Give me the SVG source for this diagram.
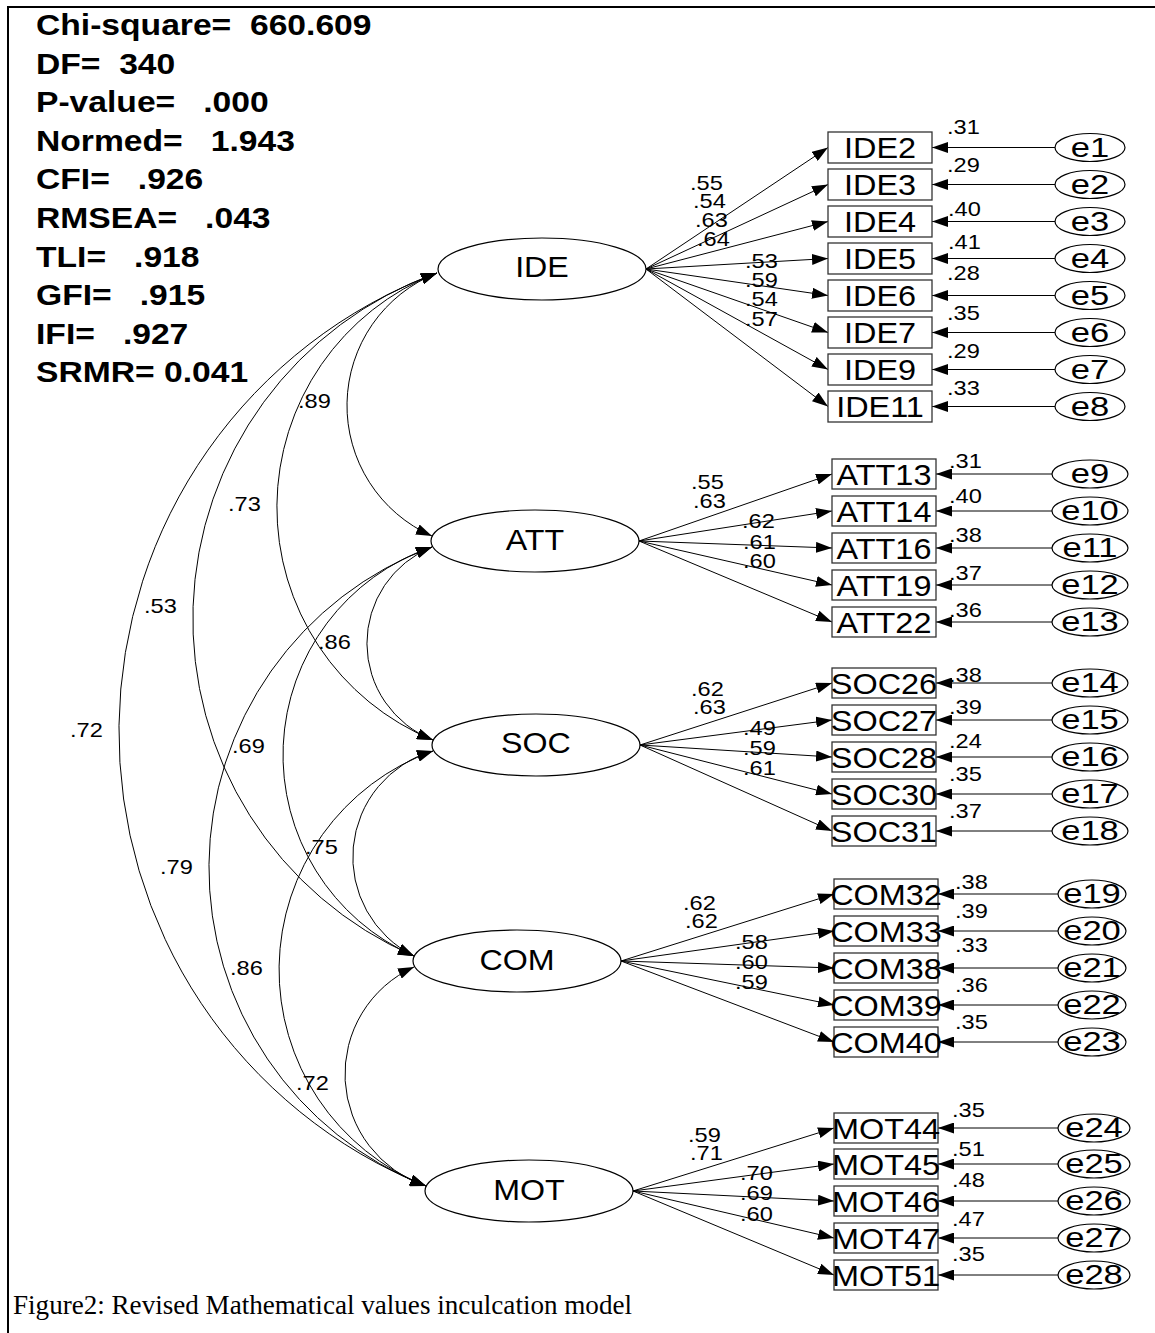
<svg xmlns="http://www.w3.org/2000/svg" width="1155" height="1333" viewBox="0 0 1155 1333">
<defs>
<marker id="ah" viewBox="0 0 16 11" refX="16" refY="5.5" markerWidth="16" markerHeight="11" markerUnits="userSpaceOnUse" orient="auto-start-reverse"><path d="M0,0 L16,5.5 L0,11 z" fill="#000"/></marker>
<style>
text{fill:#000;font-family:"Liberation Sans",Arial,sans-serif;transform-box:fill-box}
.st{font-size:29px;font-weight:bold;white-space:pre;transform-origin:left center;transform:scaleX(1.16)}
.lat{font-size:29px;text-anchor:middle;transform-origin:center;transform:scaleX(1.11)}
.ind{font-size:30px;text-anchor:middle;transform-origin:center;transform:scaleX(1.08)}
.err{font-size:27px;text-anchor:middle;transform-origin:center;transform:scaleX(1.28)}
.lb{font-size:20px;transform-origin:left center;transform:scaleX(1.18)}
.cap{font-family:"Liberation Serif","Times New Roman",serif;font-size:26.5px}
ellipse{fill:#fff;stroke:#000;stroke-width:1.2}
rect.box{fill:#fff;stroke:#333;stroke-width:1.3}
.conn line,.conn path{fill:none;stroke:#000;stroke-width:1;marker-end:url(#ah)}
.conn path{marker-start:url(#ah)}
</style>
</defs>
<rect x="0" y="0" width="1155" height="1333" fill="#fff"/>
<rect x="8" y="7" width="1200" height="1400" fill="none" stroke="#000" stroke-width="2"/>

<g id="fit-stats">
<text class="st" x="36" y="35">Chi-square=  660.609</text>
<text class="st" x="36" y="73.6">DF=  340</text>
<text class="st" x="36" y="112.2">P-value=   .000</text>
<text class="st" x="36" y="150.8">Normed=   1.943</text>
<text class="st" x="36" y="189.4">CFI=   .926</text>
<text class="st" x="36" y="228">RMSEA=   .043</text>
<text class="st" x="36" y="266.6">TLI=   .918</text>
<text class="st" x="36" y="305.2">GFI=   .915</text>
<text class="st" x="36" y="343.8">IFI=   .927</text>
<text class="st" x="36" y="382.4">SRMR= 0.041</text>
</g>

<g class="conn" id="connectors">
<!-- covariances -->
<path d="M437,273 A142.6,142.6 0 0 0 432,536"/>
<path d="M437,273 A251.5,251.5 0 0 0 433,740"/>
<path d="M437,273 A367.3,367.3 0 0 0 414,956"/>
<path d="M437,273 A489.7,489.7 0 0 0 426,1186"/>
<path d="M432,547 A103.8,103.8 0 0 0 433,740"/>
<path d="M432,547 A219.7,219.7 0 0 0 414,956"/>
<path d="M432,547 A342,342 0 0 0 426,1186"/>
<path d="M433,751 A110.4,110.4 0 0 0 414,956"/>
<path d="M433,751 A232.5,232.5 0 0 0 426,1186"/>
<path d="M414,967 A117.7,117.7 0 0 0 426,1186"/>
<!-- IDE loadings -->
<line x1="646" y1="269" x2="828" y2="147.5"/>
<line x1="646" y1="269" x2="828" y2="184.5"/>
<line x1="646" y1="269" x2="828" y2="221.5"/>
<line x1="646" y1="269" x2="828" y2="258.5"/>
<line x1="646" y1="269" x2="828" y2="295.5"/>
<line x1="646" y1="269" x2="828" y2="332.5"/>
<line x1="646" y1="269" x2="828" y2="369.5"/>
<line x1="646" y1="269" x2="828" y2="406.5"/>
<!-- ATT loadings -->
<line x1="639" y1="541" x2="832" y2="474"/>
<line x1="639" y1="541" x2="832" y2="511"/>
<line x1="639" y1="541" x2="832" y2="548"/>
<line x1="639" y1="541" x2="832" y2="585"/>
<line x1="639" y1="541" x2="832" y2="622"/>
<!-- SOC loadings -->
<line x1="640" y1="745" x2="832" y2="683"/>
<line x1="640" y1="745" x2="832" y2="720"/>
<line x1="640" y1="745" x2="832" y2="757"/>
<line x1="640" y1="745" x2="832" y2="794"/>
<line x1="640" y1="745" x2="832" y2="831"/>
<!-- COM loadings -->
<line x1="621" y1="961" x2="834" y2="894"/>
<line x1="621" y1="961" x2="834" y2="931"/>
<line x1="621" y1="961" x2="834" y2="968"/>
<line x1="621" y1="961" x2="834" y2="1005"/>
<line x1="621" y1="961" x2="834" y2="1042"/>
<!-- MOT loadings -->
<line x1="633" y1="1191" x2="834" y2="1128"/>
<line x1="633" y1="1191" x2="834" y2="1164"/>
<line x1="633" y1="1191" x2="834" y2="1201"/>
<line x1="633" y1="1191" x2="834" y2="1238"/>
<line x1="633" y1="1191" x2="834" y2="1275"/>
<!-- error arrows -->
<line x1="1055" y1="147.5" x2="932" y2="147.5"/>
<line x1="1055" y1="184.5" x2="932" y2="184.5"/>
<line x1="1055" y1="221.5" x2="932" y2="221.5"/>
<line x1="1055" y1="258.5" x2="932" y2="258.5"/>
<line x1="1055" y1="295.5" x2="932" y2="295.5"/>
<line x1="1055" y1="332.5" x2="932" y2="332.5"/>
<line x1="1055" y1="369.5" x2="932" y2="369.5"/>
<line x1="1055" y1="406.5" x2="932" y2="406.5"/>
<line x1="1052" y1="474" x2="936" y2="474"/>
<line x1="1052" y1="511" x2="936" y2="511"/>
<line x1="1052" y1="548" x2="936" y2="548"/>
<line x1="1052" y1="585" x2="936" y2="585"/>
<line x1="1052" y1="622" x2="936" y2="622"/>
<line x1="1052" y1="683" x2="936" y2="683"/>
<line x1="1052" y1="720" x2="936" y2="720"/>
<line x1="1052" y1="757" x2="936" y2="757"/>
<line x1="1052" y1="794" x2="936" y2="794"/>
<line x1="1052" y1="831" x2="936" y2="831"/>
<line x1="1058" y1="894" x2="938" y2="894"/>
<line x1="1058" y1="931" x2="938" y2="931"/>
<line x1="1058" y1="968" x2="938" y2="968"/>
<line x1="1058" y1="1005" x2="938" y2="1005"/>
<line x1="1058" y1="1042" x2="938" y2="1042"/>
<line x1="1058" y1="1128" x2="938" y2="1128"/>
<line x1="1058" y1="1164" x2="938" y2="1164"/>
<line x1="1058" y1="1201" x2="938" y2="1201"/>
<line x1="1058" y1="1238" x2="938" y2="1238"/>
<line x1="1058" y1="1275" x2="938" y2="1275"/>
</g>

<g id="connector-labels">
<text class="lb" x="298" y="408">.89</text>
<text class="lb" x="228" y="511">.73</text>
<text class="lb" x="144" y="613">.53</text>
<text class="lb" x="70" y="737">.72</text>
<text class="lb" x="318" y="649">.86</text>
<text class="lb" x="232" y="753">.69</text>
<text class="lb" x="160" y="874">.79</text>
<text class="lb" x="305" y="854">.75</text>
<text class="lb" x="230" y="975">.86</text>
<text class="lb" x="296" y="1090">.72</text>
<text class="lb" x="690" y="190">.55</text>
<text class="lb" x="693" y="208">.54</text>
<text class="lb" x="695" y="227">.63</text>
<text class="lb" x="697" y="246">.64</text>
<text class="lb" x="745" y="268">.53</text>
<text class="lb" x="745" y="287">.59</text>
<text class="lb" x="745" y="306">.54</text>
<text class="lb" x="745" y="326">.57</text>
<text class="lb" x="691" y="489">.55</text>
<text class="lb" x="693" y="508">.63</text>
<text class="lb" x="742" y="528">.62</text>
<text class="lb" x="743" y="549">.61</text>
<text class="lb" x="743" y="568">.60</text>
<text class="lb" x="691" y="696">.62</text>
<text class="lb" x="693" y="714">.63</text>
<text class="lb" x="743" y="735">.49</text>
<text class="lb" x="743" y="755">.59</text>
<text class="lb" x="743" y="775">.61</text>
<text class="lb" x="683" y="910">.62</text>
<text class="lb" x="685" y="928">.62</text>
<text class="lb" x="735" y="949">.58</text>
<text class="lb" x="735" y="969">.60</text>
<text class="lb" x="735" y="989">.59</text>
<text class="lb" x="688" y="1142">.59</text>
<text class="lb" x="690" y="1160">.71</text>
<text class="lb" x="740" y="1180">.70</text>
<text class="lb" x="740" y="1200">.69</text>
<text class="lb" x="740" y="1221">.60</text>
</g>

<g id="IDE"><ellipse cx="542" cy="269" rx="104" ry="31"/><text class="lat" x="542" y="277">IDE</text></g>
<g id="ATT"><ellipse cx="535" cy="541" rx="104" ry="31"/><text class="lat" x="535" y="550">ATT</text></g>
<g id="SOC"><ellipse cx="536" cy="745" rx="104" ry="31"/><text class="lat" x="536" y="753">SOC</text></g>
<g id="COM"><ellipse cx="517" cy="961" rx="104" ry="31"/><text class="lat" x="517" y="970">COM</text></g>
<g id="MOT"><ellipse cx="529" cy="1191" rx="104" ry="31"/><text class="lat" x="529" y="1200">MOT</text></g>

<g id="IDE2"><rect class="box" x="828" y="132" width="104" height="31"/><text class="ind" x="880" y="158.5">IDE2</text></g>
<g id="IDE3"><rect class="box" x="828" y="169" width="104" height="31"/><text class="ind" x="880" y="195.5">IDE3</text></g>
<g id="IDE4"><rect class="box" x="828" y="206" width="104" height="31"/><text class="ind" x="880" y="232.5">IDE4</text></g>
<g id="IDE5"><rect class="box" x="828" y="243" width="104" height="31"/><text class="ind" x="880" y="269.5">IDE5</text></g>
<g id="IDE6"><rect class="box" x="828" y="280" width="104" height="31"/><text class="ind" x="880" y="306.5">IDE6</text></g>
<g id="IDE7"><rect class="box" x="828" y="317" width="104" height="31"/><text class="ind" x="880" y="343.5">IDE7</text></g>
<g id="IDE9"><rect class="box" x="828" y="354" width="104" height="31"/><text class="ind" x="880" y="380.5">IDE9</text></g>
<g id="IDE11"><rect class="box" x="828" y="391" width="104" height="31"/><text class="ind" x="880" y="417.5">IDE11</text></g>

<g id="ATT13"><rect class="box" x="832" y="459" width="104" height="30"/><text class="ind" x="884" y="485">ATT13</text></g>
<g id="ATT14"><rect class="box" x="832" y="496" width="104" height="30"/><text class="ind" x="884" y="522">ATT14</text></g>
<g id="ATT16"><rect class="box" x="832" y="533" width="104" height="30"/><text class="ind" x="884" y="559">ATT16</text></g>
<g id="ATT19"><rect class="box" x="832" y="570" width="104" height="30"/><text class="ind" x="884" y="596">ATT19</text></g>
<g id="ATT22"><rect class="box" x="832" y="607" width="104" height="30"/><text class="ind" x="884" y="633">ATT22</text></g>

<g id="SOC26"><rect class="box" x="832" y="668" width="104" height="30"/><text class="ind" x="884" y="694">SOC26</text></g>
<g id="SOC27"><rect class="box" x="832" y="705" width="104" height="30"/><text class="ind" x="884" y="731">SOC27</text></g>
<g id="SOC28"><rect class="box" x="832" y="742" width="104" height="30"/><text class="ind" x="884" y="768">SOC28</text></g>
<g id="SOC30"><rect class="box" x="832" y="779" width="104" height="30"/><text class="ind" x="884" y="805">SOC30</text></g>
<g id="SOC31"><rect class="box" x="832" y="816" width="104" height="30"/><text class="ind" x="884" y="842">SOC31</text></g>

<g id="COM32"><rect class="box" x="834" y="879" width="104" height="30"/><text class="ind" x="886" y="905">COM32</text></g>
<g id="COM33"><rect class="box" x="834" y="916" width="104" height="30"/><text class="ind" x="886" y="942">COM33</text></g>
<g id="COM38"><rect class="box" x="834" y="953" width="104" height="30"/><text class="ind" x="886" y="979">COM38</text></g>
<g id="COM39"><rect class="box" x="834" y="990" width="104" height="30"/><text class="ind" x="886" y="1016">COM39</text></g>
<g id="COM40"><rect class="box" x="834" y="1027" width="104" height="30"/><text class="ind" x="886" y="1053">COM40</text></g>

<g id="MOT44"><rect class="box" x="834" y="1113" width="104" height="30"/><text class="ind" x="886" y="1139">MOT44</text></g>
<g id="MOT45"><rect class="box" x="834" y="1149" width="104" height="30"/><text class="ind" x="886" y="1175">MOT45</text></g>
<g id="MOT46"><rect class="box" x="834" y="1186" width="104" height="30"/><text class="ind" x="886" y="1212">MOT46</text></g>
<g id="MOT47"><rect class="box" x="834" y="1223" width="104" height="30"/><text class="ind" x="886" y="1249">MOT47</text></g>
<g id="MOT51"><rect class="box" x="834" y="1260" width="104" height="30"/><text class="ind" x="886" y="1286">MOT51</text></g>

<g id="error-labels">
<text class="lb" x="947" y="134">.31</text>
<text class="lb" x="947" y="172">.29</text>
<text class="lb" x="948" y="216">.40</text>
<text class="lb" x="948" y="249">.41</text>
<text class="lb" x="947" y="280">.28</text>
<text class="lb" x="947" y="320">.35</text>
<text class="lb" x="947" y="358">.29</text>
<text class="lb" x="947" y="395">.33</text>
<text class="lb" x="949" y="468">.31</text>
<text class="lb" x="949" y="503">.40</text>
<text class="lb" x="949" y="542">.38</text>
<text class="lb" x="949" y="580">.37</text>
<text class="lb" x="949" y="617">.36</text>
<text class="lb" x="949" y="682">.38</text>
<text class="lb" x="949" y="714">.39</text>
<text class="lb" x="949" y="748">.24</text>
<text class="lb" x="949" y="781">.35</text>
<text class="lb" x="949" y="818">.37</text>
<text class="lb" x="955" y="889">.38</text>
<text class="lb" x="955" y="918">.39</text>
<text class="lb" x="955" y="952">.33</text>
<text class="lb" x="955" y="992">.36</text>
<text class="lb" x="955" y="1029">.35</text>
<text class="lb" x="952" y="1117">.35</text>
<text class="lb" x="952" y="1156">.51</text>
<text class="lb" x="952" y="1187">.48</text>
<text class="lb" x="952" y="1226">.47</text>
<text class="lb" x="952" y="1261">.35</text>
</g>

<g id="e1"><ellipse cx="1090" cy="147.5" rx="35" ry="14"/><text class="err" x="1090" y="157">e1</text></g>
<g id="e2"><ellipse cx="1090" cy="184.5" rx="35" ry="14"/><text class="err" x="1090" y="194">e2</text></g>
<g id="e3"><ellipse cx="1090" cy="221.5" rx="35" ry="14"/><text class="err" x="1090" y="231">e3</text></g>
<g id="e4"><ellipse cx="1090" cy="258.5" rx="35" ry="14"/><text class="err" x="1090" y="268">e4</text></g>
<g id="e5"><ellipse cx="1090" cy="295.5" rx="35" ry="14"/><text class="err" x="1090" y="305">e5</text></g>
<g id="e6"><ellipse cx="1090" cy="332.5" rx="35" ry="14"/><text class="err" x="1090" y="342">e6</text></g>
<g id="e7"><ellipse cx="1090" cy="369.5" rx="35" ry="14"/><text class="err" x="1090" y="379">e7</text></g>
<g id="e8"><ellipse cx="1090" cy="406.5" rx="35" ry="14"/><text class="err" x="1090" y="416">e8</text></g>
<g id="e9"><ellipse cx="1090" cy="474" rx="38" ry="14"/><text class="err" x="1090" y="483.5">e9</text></g>
<g id="e10"><ellipse cx="1090" cy="511" rx="38" ry="14"/><text class="err" x="1090" y="520.5">e10</text></g>
<g id="e11"><ellipse cx="1090" cy="548" rx="38" ry="14"/><text class="err" x="1090" y="557.5">e11</text></g>
<g id="e12"><ellipse cx="1090" cy="585" rx="38" ry="14"/><text class="err" x="1090" y="594.5">e12</text></g>
<g id="e13"><ellipse cx="1090" cy="622" rx="38" ry="14"/><text class="err" x="1090" y="631.5">e13</text></g>
<g id="e14"><ellipse cx="1090" cy="683" rx="38" ry="14"/><text class="err" x="1090" y="692.5">e14</text></g>
<g id="e15"><ellipse cx="1090" cy="720" rx="38" ry="14"/><text class="err" x="1090" y="729.5">e15</text></g>
<g id="e16"><ellipse cx="1090" cy="757" rx="38" ry="14"/><text class="err" x="1090" y="766.5">e16</text></g>
<g id="e17"><ellipse cx="1090" cy="794" rx="38" ry="14"/><text class="err" x="1090" y="803.5">e17</text></g>
<g id="e18"><ellipse cx="1090" cy="831" rx="38" ry="14"/><text class="err" x="1090" y="840.5">e18</text></g>
<g id="e19"><ellipse cx="1092" cy="894" rx="34" ry="14"/><text class="err" x="1092" y="903.5">e19</text></g>
<g id="e20"><ellipse cx="1092" cy="931" rx="34" ry="14"/><text class="err" x="1092" y="940.5">e20</text></g>
<g id="e21"><ellipse cx="1092" cy="968" rx="34" ry="14"/><text class="err" x="1092" y="977.5">e21</text></g>
<g id="e22"><ellipse cx="1092" cy="1005" rx="34" ry="14"/><text class="err" x="1092" y="1014.5">e22</text></g>
<g id="e23"><ellipse cx="1092" cy="1042" rx="34" ry="14"/><text class="err" x="1092" y="1051.5">e23</text></g>
<g id="e24"><ellipse cx="1094" cy="1128" rx="36" ry="14"/><text class="err" x="1094" y="1137.5">e24</text></g>
<g id="e25"><ellipse cx="1094" cy="1164" rx="36" ry="14"/><text class="err" x="1094" y="1173.5">e25</text></g>
<g id="e26"><ellipse cx="1094" cy="1201" rx="36" ry="14"/><text class="err" x="1094" y="1210.5">e26</text></g>
<g id="e27"><ellipse cx="1094" cy="1238" rx="36" ry="14"/><text class="err" x="1094" y="1247.5">e27</text></g>
<g id="e28"><ellipse cx="1094" cy="1275" rx="36" ry="14"/><text class="err" x="1094" y="1284.5">e28</text></g>

<g id="caption"><text class="cap" x="13" y="1314" textLength="619" lengthAdjust="spacingAndGlyphs">Figure2: Revised Mathematical values inculcation model</text></g>
</svg>
